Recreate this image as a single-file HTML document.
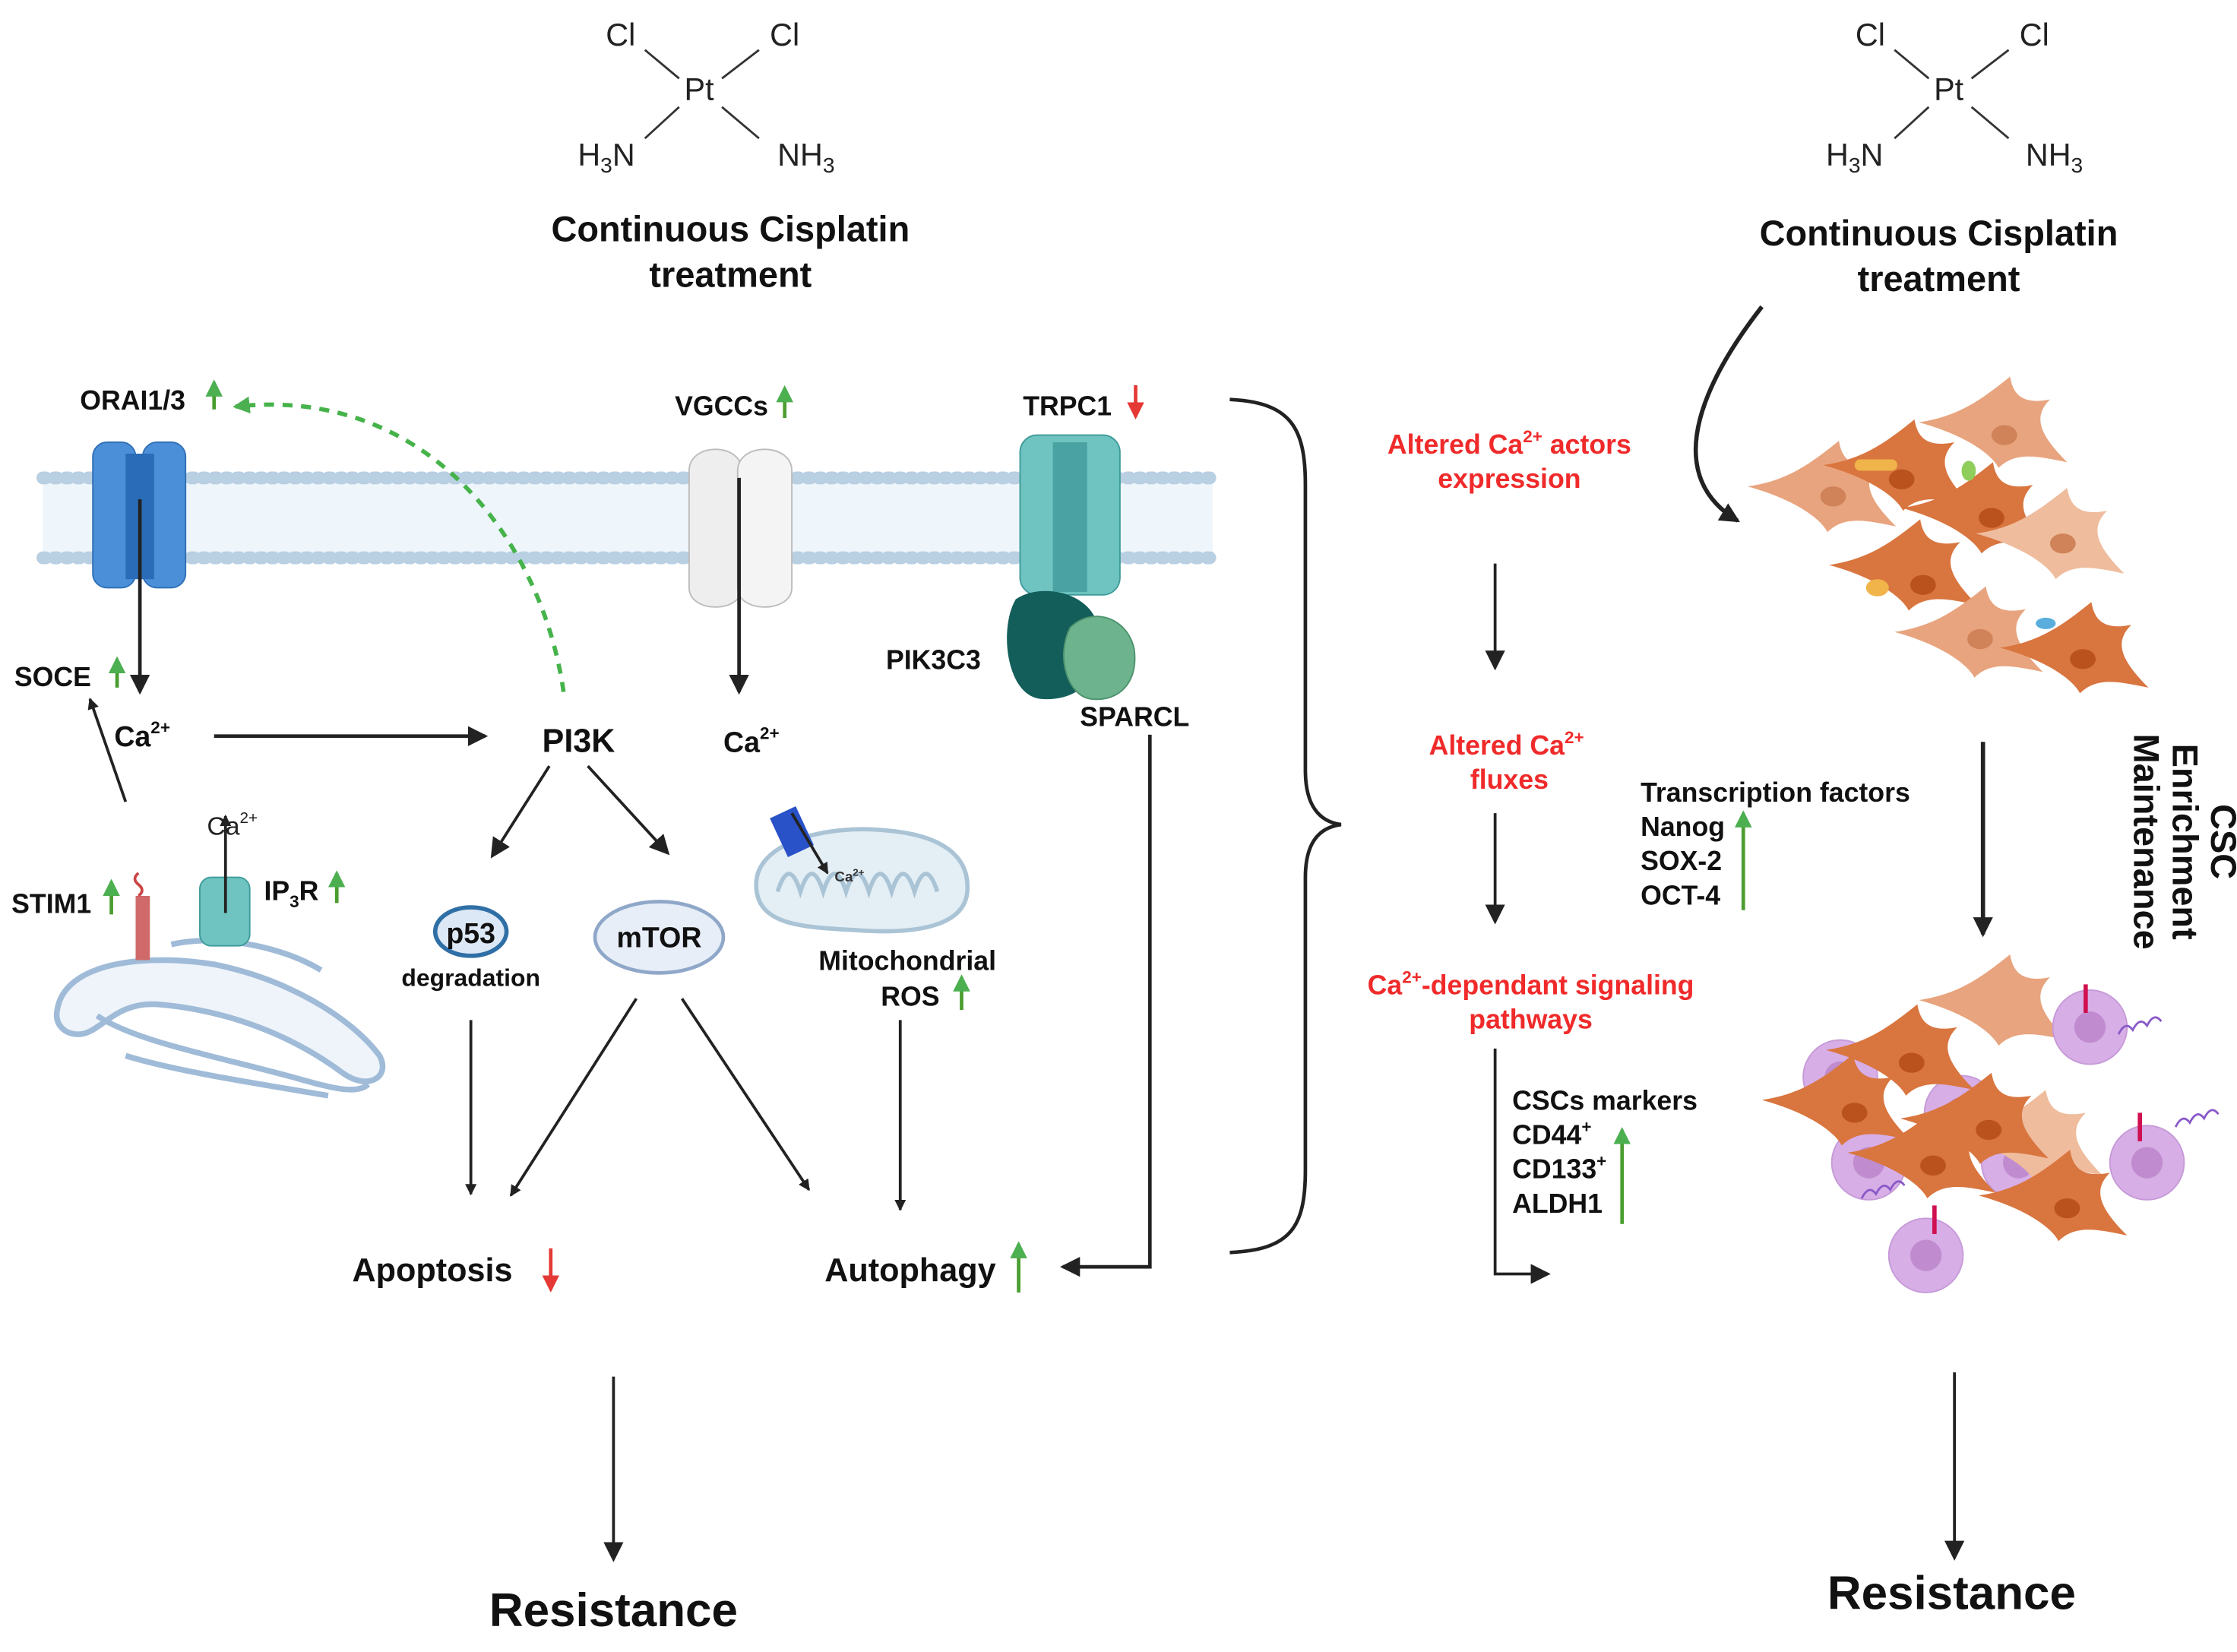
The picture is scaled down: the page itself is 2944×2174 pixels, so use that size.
<!DOCTYPE html>
<html><head><meta charset="utf-8"><style>
html,body{margin:0;padding:0;background:#fff}
svg{display:block}
text{font-family:"Liberation Sans",sans-serif}
.b{font-weight:bold}
</style></head><body>
<svg width="2944" height="2174" viewBox="0 0 1568 1158" xmlns="http://www.w3.org/2000/svg">
<defs>
<marker id="ah" markerWidth="8" markerHeight="8" refX="7" refY="4" orient="auto" markerUnits="userSpaceOnUse"><path d="M0,0 L8,4 L0,8 z" fill="#222"/></marker>
<marker id="ahb" markerWidth="14" markerHeight="14" refX="12" refY="7" orient="auto" markerUnits="userSpaceOnUse"><path d="M0,0 L14,7 L0,14 z" fill="#222"/></marker>
<marker id="ahg" markerWidth="12" markerHeight="12" refX="10" refY="6" orient="auto" markerUnits="userSpaceOnUse"><path d="M0,0 L12,6 L0,12 z" fill="#4caf50"/></marker>
<marker id="ahr" markerWidth="12" markerHeight="12" refX="10" refY="6" orient="auto" markerUnits="userSpaceOnUse"><path d="M0,0 L12,6 L0,12 z" fill="#e53935"/></marker>
<g id="cell"><path d="M-60,-4 C-32,-8 -16,-20 4,-36 C6,-24 12,-16 32,-20 C20,-8 24,4 44,24 C24,20 8,16 -4,28 C-8,20 -24,6 -60,-4 z"/></g>
<g id="pcell"><circle r="26" fill="#d7aee6" stroke="#c69ad8"/><circle r="11" fill="#c08ccf"/></g>
</defs>

<g font-size="22" fill="#222">
<text x="435" y="32" text-anchor="middle">Cl</text><text x="550" y="32" text-anchor="middle">Cl</text>
<text x="490" y="70" text-anchor="middle">Pt</text>
<text x="425" y="116" text-anchor="middle">H<tspan font-size="15" dy="5">3</tspan><tspan dy="-5">N</tspan></text>
<text x="565" y="116" text-anchor="middle">NH<tspan font-size="15" dy="5">3</tspan></text>
<text x="1311" y="32" text-anchor="middle">Cl</text><text x="1426" y="32" text-anchor="middle">Cl</text>
<text x="1366" y="70" text-anchor="middle">Pt</text>
<text x="1300" y="116" text-anchor="middle">H<tspan font-size="15" dy="5">3</tspan><tspan dy="-5">N</tspan></text>
<text x="1440" y="116" text-anchor="middle">NH<tspan font-size="15" dy="5">3</tspan></text>
</g>
<g stroke="#333" stroke-width="1.5">
<line x1="452" y1="35" x2="476" y2="55"/><line x1="532" y1="35" x2="506" y2="55"/>
<line x1="476" y1="75" x2="452" y2="97"/><line x1="506" y1="75" x2="532" y2="97"/>
<line x1="1328" y1="35" x2="1352" y2="55"/><line x1="1408" y1="35" x2="1382" y2="55"/>
<line x1="1352" y1="75" x2="1328" y2="97"/><line x1="1382" y1="75" x2="1408" y2="97"/>
</g>
<g font-size="25" class="b" fill="#111" text-anchor="middle">
<text x="512" y="169">Continuous Cisplatin</text><text x="512" y="201">treatment</text>
<text x="1359" y="172">Continuous Cisplatin</text><text x="1359" y="204">treatment</text>
</g>

<rect x="30" y="337" width="820" height="53" fill="#eef5fb"/>
<line x1="30" y1="335" x2="850" y2="335" stroke="#b9cfe2" stroke-width="9" stroke-dasharray="2 6" stroke-linecap="round"/>
<line x1="30" y1="391" x2="850" y2="391" stroke="#b9cfe2" stroke-width="9" stroke-dasharray="2 6" stroke-linecap="round"/>

<rect x="65" y="310" width="30" height="102" rx="10" fill="#4a8fd8" stroke="#2f6fb5"/>
<rect x="100" y="310" width="30" height="102" rx="10" fill="#4a8fd8" stroke="#2f6fb5"/>
<rect x="88" y="318" width="20" height="88" fill="#2b6cb8"/>
<path d="M483,330 C483,310 520,310 520,330 L520,412 C520,430 483,430 483,412 z" fill="#eee" stroke="#bbb"/>
<path d="M517,330 C517,310 555,310 555,330 L555,412 C555,430 517,430 517,412 z" fill="#f4f4f4" stroke="#bbb"/>
<rect x="715" y="305" width="70" height="112" rx="12" fill="#6fc4c2" stroke="#3f9b99"/>
<rect x="738" y="310" width="24" height="105" fill="#4aa3a2"/>
<path d="M712,420 C730,408 765,415 770,440 C775,470 760,492 730,490 C705,488 700,440 712,420 z" fill="#135e5a"/>
<path d="M750,440 C765,425 790,432 795,455 C798,478 785,492 765,490 C748,488 740,460 750,440 z" fill="#6db38d" stroke="#4d936d"/>

<g class="b" font-size="19" fill="#111">
<text x="56" y="287">ORAI1/3</text>
<text x="473" y="291">VGCCs</text>
<text x="717" y="291">TRPC1</text>
<text x="621" y="469">PIK3C3</text>
<text x="757" y="509">SPARCL</text>
<text x="10" y="481">SOCE</text>
<text x="80" y="523" font-size="20">Ca<tspan font-size="12" dy="-9">2+</tspan></text>
<text x="380" y="527" font-size="23">PI3K</text>
<text x="507" y="527" font-size="20">Ca<tspan font-size="12" dy="-9">2+</tspan></text>
<text x="8" y="640">STIM1</text>
<text x="185" y="631">IP<tspan font-size="12" dy="5">3</tspan><tspan dy="-5">R</tspan></text>
<text x="330" y="691" font-size="17" text-anchor="middle">degradation</text>
<text x="636" y="680" text-anchor="middle">Mitochondrial</text>
<text x="638" y="705" text-anchor="middle">ROS</text>
<text x="303" y="898" font-size="23" text-anchor="middle">Apoptosis</text>
<text x="638" y="898" font-size="23" text-anchor="middle">Autophagy</text>
<text x="430" y="1140" font-size="33" text-anchor="middle">Resistance</text>
<text x="1368" y="1128" font-size="33" text-anchor="middle">Resistance</text>
</g>
<text x="145" y="585" font-size="18" fill="#222">Ca<tspan font-size="11" dy="-8">2+</tspan></text>

<g stroke-width="2.5">
<line x1="150" y1="287" x2="150" y2="268" stroke="#4a9d2f" marker-end="url(#ahg)"/>
<line x1="550" y1="293" x2="550" y2="272" stroke="#4a9d2f" marker-end="url(#ahg)"/>
<line x1="796" y1="270" x2="796" y2="292" stroke="#e53935" marker-end="url(#ahr)"/>
<line x1="82" y1="482" x2="82" y2="462" stroke="#4a9d2f" marker-end="url(#ahg)"/>
<line x1="78" y1="641" x2="78" y2="618" stroke="#4a9d2f" marker-end="url(#ahg)"/>
<line x1="236" y1="633" x2="236" y2="612" stroke="#4a9d2f" marker-end="url(#ahg)"/>
<line x1="674" y1="708" x2="674" y2="685" stroke="#4a9d2f" marker-end="url(#ahg)"/>
<line x1="386" y1="875" x2="386" y2="904" stroke="#e53935" marker-end="url(#ahr)"/>
<line x1="714" y1="906" x2="714" y2="872" stroke="#4a9d2f" marker-end="url(#ahg)"/>
<line x1="1222" y1="638" x2="1222" y2="570" stroke="#4a9d2f" marker-end="url(#ahg)"/>
<line x1="1137" y1="858" x2="1137" y2="792" stroke="#4a9d2f" marker-end="url(#ahg)"/>
</g>

<!-- ER -->
<g fill="none" stroke="#9fbbd8" stroke-width="4">
<path d="M40,708 C45,675 100,668 150,676 C200,686 245,712 266,740 C274,755 258,765 240,752 C205,726 160,708 110,704 C80,702 70,725 55,725 C45,725 38,718 40,708 z" fill="#eef4fa"/>
<path d="M68,712 C95,730 150,740 205,755 C230,762 250,768 258,760" />
<path d="M88,740 C120,750 170,758 230,768"/>
<path d="M120,662 C150,655 195,662 225,680"/>
</g>
<rect x="95" y="628" width="10" height="45" fill="#d06a6a"/>
<path d="M97,628 q5,-4 0,-8 q-5,-4 0,-8" stroke="#c44" fill="none" stroke-width="2"/>
<rect x="140" y="615" width="35" height="48" rx="8" fill="#6fc4c2" stroke="#3f9b99"/>

<path d="M530,620 C530,590 580,578 620,582 C660,585 680,600 678,625 C676,650 640,655 600,652 C560,650 530,648 530,620 z" fill="#e3eef5" stroke="#aac4d6" stroke-width="3"/>
<path d="M545,625 q8,-25 16,0 q8,-25 16,0 q8,-25 16,0 q8,-25 16,0 q8,-25 16,0 q8,-25 16,0 q8,-25 16,0" fill="none" stroke="#aac4d6" stroke-width="3"/>
<rect x="545" y="568" width="20" height="30" fill="#2952c9" transform="rotate(-25 555 583)"/>
<text x="585" y="618" font-size="10" class="b" fill="#333">Ca<tspan font-size="7" dy="-4">2+</tspan></text>

<ellipse cx="330" cy="653" rx="25" ry="17" fill="#dce8f5" stroke="#2f6fa5" stroke-width="3"/>
<text x="330" y="661" font-size="20" class="b" text-anchor="middle" fill="#111">p53</text>
<ellipse cx="462" cy="657" rx="45" ry="25" fill="#e7eef8" stroke="#8fa7c8" stroke-width="2.5"/>
<text x="462" y="664" font-size="20" class="b" text-anchor="middle" fill="#111">mTOR</text>

<g stroke="#222" stroke-width="2" fill="none">
<line x1="98" y1="350" x2="98" y2="485" marker-end="url(#ahb)" stroke-width="2.5"/>
<line x1="518" y1="335" x2="518" y2="485" marker-end="url(#ahb)" stroke-width="2.5"/>
<line x1="150" y1="516" x2="340" y2="516" marker-end="url(#ahb)" stroke-width="2.5"/>
<line x1="88" y1="562" x2="63" y2="490" marker-end="url(#ah)"/>
<line x1="158" y1="640" x2="158" y2="572" marker-end="url(#ah)"/>
<line x1="555" y1="570" x2="580" y2="612" marker-end="url(#ah)"/>
<line x1="385" y1="537" x2="345" y2="600" marker-end="url(#ahb)"/>
<line x1="412" y1="537" x2="468" y2="598" marker-end="url(#ahb)"/>
<line x1="330" y1="715" x2="330" y2="837" marker-end="url(#ah)"/>
<line x1="446" y1="700" x2="358" y2="838" marker-end="url(#ah)"/>
<line x1="478" y1="700" x2="567" y2="834" marker-end="url(#ah)"/>
<line x1="631" y1="715" x2="631" y2="848" marker-end="url(#ah)"/>
<polyline points="806,515 806,888 745,888" marker-end="url(#ahb)" stroke-width="2.5"/>
<line x1="430" y1="965" x2="430" y2="1093" marker-end="url(#ahb)"/>
<line x1="1048" y1="395" x2="1048" y2="468" marker-end="url(#ahb)"/>
<line x1="1048" y1="570" x2="1048" y2="646" marker-end="url(#ahb)"/>
<polyline points="1048,735 1048,893 1085,893" marker-end="url(#ahb)"/>
<line x1="1390" y1="520" x2="1390" y2="655" marker-end="url(#ahb)" stroke-width="3"/>
<line x1="1370" y1="962" x2="1370" y2="1092" marker-end="url(#ahb)"/>
<path d="M1235,215 C1200,260 1160,330 1218,365" marker-end="url(#ahb)" stroke-width="3"/>
<path d="M862,280 C905,282 915,300 915,340 L915,540 C915,565 925,576 940,578 C925,580 915,590 915,615 L915,820 C915,860 905,876 862,878" stroke-width="2.5"/>
</g>
<path d="M395,485 C380,380 300,270 165,285" fill="none" stroke="#46b34a" stroke-width="3" stroke-dasharray="7 6" marker-end="url(#ahg)"/>

<g class="b" font-size="19" fill="#f02a2a" text-anchor="middle">
<text x="1058" y="318">Altered Ca<tspan font-size="12" dy="-8">2+</tspan><tspan dy="8"> actors</tspan></text>
<text x="1058" y="342">expression</text>
<text x="1056" y="529">Altered Ca<tspan font-size="12" dy="-8">2+</tspan></text>
<text x="1058" y="553">fluxes</text>
<text x="1073" y="697">Ca<tspan font-size="12" dy="-8">2+</tspan><tspan dy="8">-dependant signaling</tspan></text>
<text x="1073" y="721">pathways</text>
</g>
<g class="b" font-size="19" fill="#111">
<text x="1150" y="562">Transcription factors</text>
<text x="1150" y="586">Nanog</text>
<text x="1150" y="610">SOX-2</text>
<text x="1150" y="634">OCT-4</text>
<text x="1060" y="778">CSCs markers</text>
<text x="1060" y="802">CD44<tspan font-size="12" dy="-8">+</tspan></text>
<text x="1060" y="826">CD133<tspan font-size="12" dy="-8">+</tspan></text>
<text x="1060" y="850">ALDH1</text>
</g>
<g class="b" font-size="25" fill="#111" text-anchor="middle" transform="translate(1520,590) rotate(90)">
<text x="0" y="-30">CSC</text><text x="0" y="-3">Enrichment</text><text x="0" y="24">Maintenance</text>
</g>

<!-- cells top -->
<g>
<use href="#cell" x="1285" y="345" fill="#e8a47e"/>
<use href="#cell" x="1405" y="300" fill="#e8a47e"/>
<use href="#cell" x="1338" y="330" fill="#d9753f"/>
<use href="#cell" x="1393" y="360" fill="#d9753f"/>
<use href="#cell" x="1445" y="378" fill="#efbc9d"/>
<use href="#cell" x="1342" y="400" fill="#d9753f"/>
<use href="#cell" x="1388" y="447" fill="#e8a47e"/>
<use href="#cell" x="1462" y="458" fill="#d9753f"/>
<g fill="#b9521d"><ellipse cx="1333" cy="336" rx="9" ry="7"/><ellipse cx="1396" cy="363" rx="9" ry="7"/><ellipse cx="1348" cy="410" rx="9" ry="7"/><ellipse cx="1460" cy="462" rx="9" ry="7"/></g>
<g fill="#d08358"><ellipse cx="1285" cy="348" rx="9" ry="7"/><ellipse cx="1405" cy="305" rx="9" ry="7"/><ellipse cx="1388" cy="448" rx="9" ry="7"/><ellipse cx="1446" cy="381" rx="9" ry="7"/></g>
<rect x="1300" y="322" width="30" height="8" rx="4" fill="#f0b44a"/>
<ellipse cx="1316" cy="412" rx="8" ry="6" fill="#f0b44a"/>
<ellipse cx="1380" cy="330" rx="5" ry="7" fill="#8fce5a"/>
<ellipse cx="1434" cy="437" rx="7" ry="4" fill="#5aaede"/>
</g>
<!-- cells bottom -->
<g>
<use href="#pcell" x="1310" y="815"/>
<use href="#pcell" x="1415" y="815"/>
<use href="#pcell" x="1375" y="780"/>
<use href="#pcell" x="1290" y="755"/>
<use href="#cell" x="1405" y="705" fill="#e8a47e"/>
<use href="#cell" x="1430" y="800" fill="#efbc9d"/>
<use href="#cell" x="1295" y="775" fill="#d9753f"/>
<use href="#cell" x="1340" y="740" fill="#d9753f"/>
<use href="#cell" x="1392" y="788" fill="#d9753f"/>
<use href="#cell" x="1355" y="812" fill="#d9753f"/>
<use href="#cell" x="1447" y="842" fill="#d9753f"/>
<use href="#pcell" x="1465" y="720"/>
<use href="#pcell" x="1505" y="815"/>
<use href="#pcell" x="1350" y="880"/>
<g stroke="#d01050" stroke-width="3"><line x1="1462" y1="710" x2="1462" y2="690"/><line x1="1500" y1="800" x2="1500" y2="780"/><line x1="1356" y1="865" x2="1356" y2="845"/></g>
<g fill="none" stroke="#8a5ac8" stroke-width="1.5">
<path d="M1485,725 q5,-10 10,-3 q5,-10 10,-3 q5,-10 10,-3"/><path d="M1525,790 q5,-10 10,-3 q5,-10 10,-3 q5,-10 10,-3"/><path d="M1305,840 q5,-10 10,-3 q5,-10 10,-3 q5,-10 10,-3"/>
</g>
<g fill="#b9521d"><ellipse cx="1300" cy="780" rx="9" ry="7"/><ellipse cx="1340" cy="745" rx="9" ry="7"/><ellipse cx="1394" cy="792" rx="9" ry="7"/><ellipse cx="1355" cy="817" rx="9" ry="7"/><ellipse cx="1449" cy="847" rx="9" ry="7"/></g>
</g>
</svg>
</body></html>
